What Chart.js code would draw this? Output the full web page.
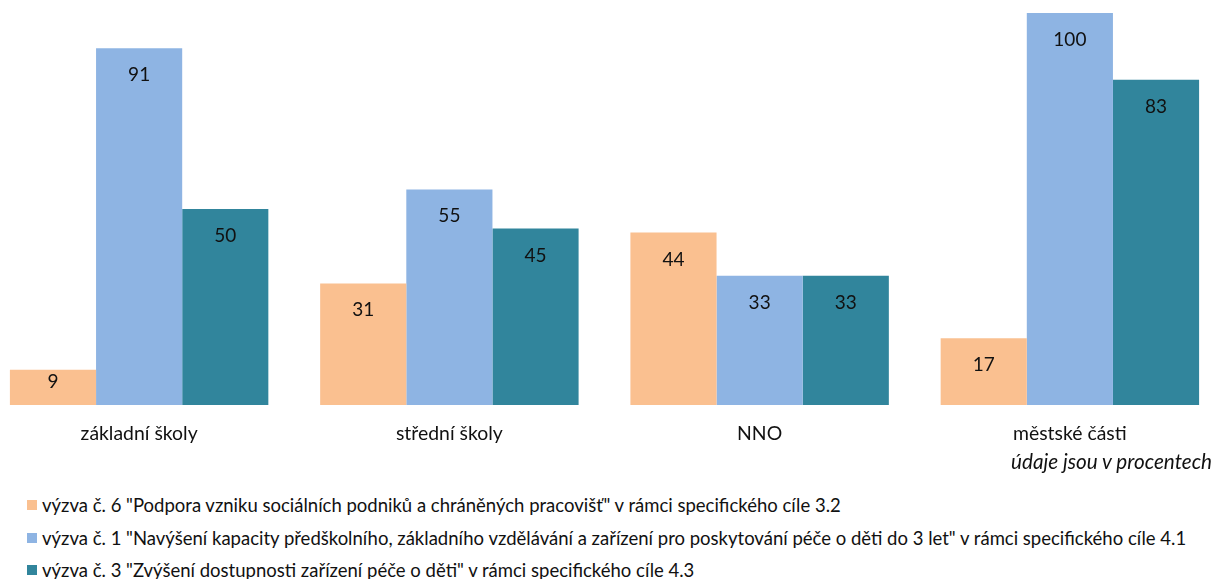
<!DOCTYPE html>
<html>
<head>
<meta charset="utf-8">
<script src="https://cdn.jsdelivr.net/npm/chart.js@4.4.0/dist/chart.umd.min.js"></script>
<style>
    body { margin: 0; background: #fff; }
    #wrap { position: relative; width: 1214px; height: 579px; overflow: hidden; font-family: Lato, sans-serif; color: #111; }
    /* plot area in the original runs a little past both edges of the picture */
    #chartBox { position: absolute; left: -16px; top: 0; width: 1241px; height: 460px; }
    #note { position: absolute; right: 2px; top: 449px; font-size: 20.7px; font-style: italic; line-height: 24px; white-space: nowrap; }
    #legend { position: absolute; left: 27px; top: 0; font-size: 18.5px; }
    .leg-row { position: absolute; left: 0; display: flex; align-items: center; height: 32px; line-height: 32px; white-space: nowrap; }
    .leg-box { width: 10px; height: 10px; margin-right: 5px; flex: none; }
</style>
</head>
<body>
<div id="wrap">
    <div id="chartBox"><canvas id="barChart"></canvas></div>
    <div id="note">údaje jsou v procentech</div>
    <div id="legend"></div>
</div>
<script>
// categories and series (values in %)
const categories = ['základní školy', 'střední školy', 'NNO', 'městské části'];
const seriesNames = [
    'výzva č. 6 "Podpora vzniku sociálních podniků a chráněných pracovišť" v rámci specifického cíle 3.2',
    'výzva č. 1 "Navýšení kapacity předškolního, základního vzdělávání a zařízení pro poskytování péče o děti do 3 let" v rámci specifického cíle 4.1',
    'výzva č. 3 "Zvýšení dostupnosti zařízení péče o děti" v rámci specifického cíle 4.3'
];
const vyzva6 = [9, 31, 44, 17];
const vyzva1 = [91, 55, 33, 100];
const vyzva3 = [50, 45, 33, 83];
const seriesColors = ['#FAC090', '#8EB4E3', '#31859C'];

document.addEventListener('DOMContentLoaded', function () {
    drawChart();
    drawLegend();
});

// value labels inside the bars, near the top (kept inside short bars)
const valueLabels = {
    id: 'valueLabels',
    afterDatasetsDraw(chart) {
        const ctx = chart.ctx;
        ctx.save();
        ctx.font = '19px Lato';
        ctx.fillStyle = '#111';
        ctx.textAlign = 'center';
        ctx.textBaseline = 'alphabetic';
        chart.data.datasets.forEach((ds, i) => {
            const meta = chart.getDatasetMeta(i);
            meta.data.forEach((bar, j) => {
                const y = Math.min(bar.y + 33, bar.base - 17);
                ctx.fillText(String(ds.data[j]), bar.x, y);
            });
        });
        ctx.restore();
    }
};

function drawChart() {
    const ctx = document.getElementById('barChart');
    const values = [vyzva6, vyzva1, vyzva3];

    new Chart(ctx, {
        type: 'bar',
        data: {
            labels: categories,
            datasets: values.map((v, i) => ({
                label: seriesNames[i],
                data: v,
                backgroundColor: seriesColors[i],
                borderWidth: 0,
                categoryPercentage: 0.833,
                barPercentage: 1.0
            }))
        },
        options: {
            responsive: true,
            maintainAspectRatio: false,
            animation: false,
            layout: { padding: { top: 13, left: 0, right: 0, bottom: 0 } },
            plugins: {
                legend: { display: false },
                tooltip: { enabled: false }
            },
            scales: {
                x: {
                    grid: { display: false, drawTicks: false },
                    border: { display: false },
                    ticks: { color: '#111', font: { family: 'Lato', size: 19.4 }, padding: 17 },
                    afterFit: (scale) => { scale.height = 55; }
                },
                y: { display: false, min: 0, max: 100 }
            }
        },
        plugins: [valueLabels]
    });
}

function drawLegend() {
    const box = document.getElementById('legend');
    box.innerHTML = seriesNames.map((name, i) => `
        <div class="leg-row" style="top:${489 + i * 32.5}px">
            <div class="leg-box" style="background:${seriesColors[i]}"></div>
            <span>${name.replace(/"/g, '&quot;')}</span>
        </div>
    `).join('');
}
</script>
</body>
</html>
